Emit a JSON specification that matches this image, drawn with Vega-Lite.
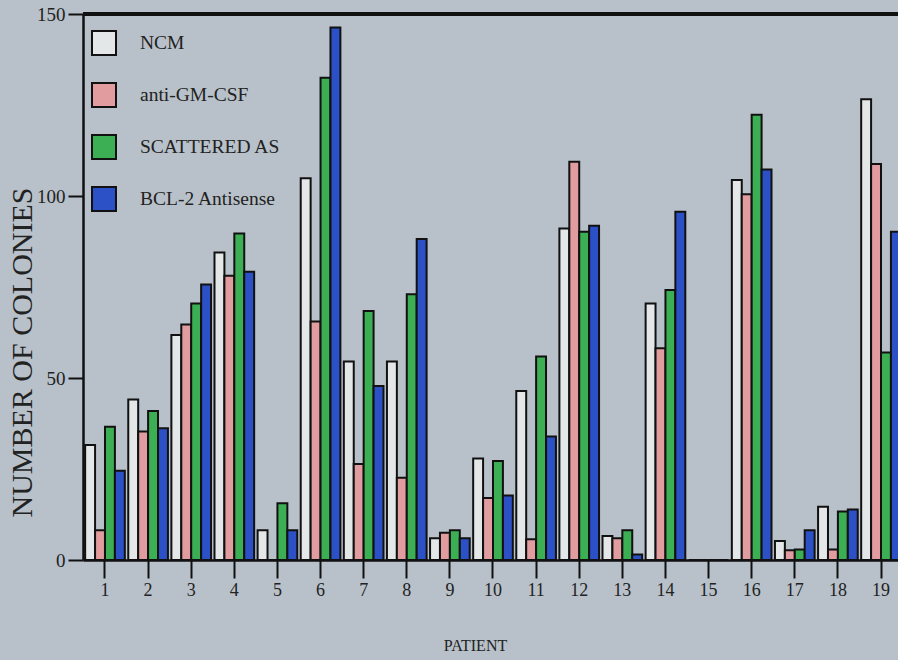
{
  "$schema": "https://vega.github.io/schema/vega-lite/v6.json",
  "width": 815,
  "height": 546,
  "autosize": {"type": "none"},
  "padding": {"left": 83, "top": 14, "right": 0, "bottom": 100},
  "background": "#b8c1c9",
  "config": {"view": {"stroke": null}, "font": "Liberation Serif"},
  "data": {"values": [
    {"patient": 1, "treatment": "NCM", "colonies": 31.6},
    {"patient": 1, "treatment": "anti-GM-CSF", "colonies": 8.2},
    {"patient": 1, "treatment": "SCATTERED AS", "colonies": 36.6},
    {"patient": 1, "treatment": "BCL-2 Antisense", "colonies": 24.5},
    {"patient": 2, "treatment": "NCM", "colonies": 44.1},
    {"patient": 2, "treatment": "anti-GM-CSF", "colonies": 35.3},
    {"patient": 2, "treatment": "SCATTERED AS", "colonies": 40.9},
    {"patient": 2, "treatment": "BCL-2 Antisense", "colonies": 36.2},
    {"patient": 3, "treatment": "NCM", "colonies": 61.8},
    {"patient": 3, "treatment": "anti-GM-CSF", "colonies": 64.7},
    {"patient": 3, "treatment": "SCATTERED AS", "colonies": 70.5},
    {"patient": 3, "treatment": "BCL-2 Antisense", "colonies": 75.7},
    {"patient": 4, "treatment": "NCM", "colonies": 84.5},
    {"patient": 4, "treatment": "anti-GM-CSF", "colonies": 78.1},
    {"patient": 4, "treatment": "SCATTERED AS", "colonies": 89.7},
    {"patient": 4, "treatment": "BCL-2 Antisense", "colonies": 79.2},
    {"patient": 5, "treatment": "NCM", "colonies": 8.2},
    {"patient": 5, "treatment": "anti-GM-CSF", "colonies": 0},
    {"patient": 5, "treatment": "SCATTERED AS", "colonies": 15.6},
    {"patient": 5, "treatment": "BCL-2 Antisense", "colonies": 8.2},
    {"patient": 6, "treatment": "NCM", "colonies": 104.9},
    {"patient": 6, "treatment": "anti-GM-CSF", "colonies": 65.5},
    {"patient": 6, "treatment": "SCATTERED AS", "colonies": 132.5},
    {"patient": 6, "treatment": "BCL-2 Antisense", "colonies": 146.3},
    {"patient": 7, "treatment": "NCM", "colonies": 54.5},
    {"patient": 7, "treatment": "anti-GM-CSF", "colonies": 26.4},
    {"patient": 7, "treatment": "SCATTERED AS", "colonies": 68.4},
    {"patient": 7, "treatment": "BCL-2 Antisense", "colonies": 47.8},
    {"patient": 8, "treatment": "NCM", "colonies": 54.5},
    {"patient": 8, "treatment": "anti-GM-CSF", "colonies": 22.6},
    {"patient": 8, "treatment": "SCATTERED AS", "colonies": 73.0},
    {"patient": 8, "treatment": "BCL-2 Antisense", "colonies": 88.2},
    {"patient": 9, "treatment": "NCM", "colonies": 6.0},
    {"patient": 9, "treatment": "anti-GM-CSF", "colonies": 7.5},
    {"patient": 9, "treatment": "SCATTERED AS", "colonies": 8.2},
    {"patient": 9, "treatment": "BCL-2 Antisense", "colonies": 6.0},
    {"patient": 10, "treatment": "NCM", "colonies": 27.9},
    {"patient": 10, "treatment": "anti-GM-CSF", "colonies": 17.0},
    {"patient": 10, "treatment": "SCATTERED AS", "colonies": 27.2},
    {"patient": 10, "treatment": "BCL-2 Antisense", "colonies": 17.7},
    {"patient": 11, "treatment": "NCM", "colonies": 46.4},
    {"patient": 11, "treatment": "anti-GM-CSF", "colonies": 5.7},
    {"patient": 11, "treatment": "SCATTERED AS", "colonies": 55.9},
    {"patient": 11, "treatment": "BCL-2 Antisense", "colonies": 33.9},
    {"patient": 12, "treatment": "NCM", "colonies": 91.1},
    {"patient": 12, "treatment": "anti-GM-CSF", "colonies": 109.4},
    {"patient": 12, "treatment": "SCATTERED AS", "colonies": 90.2},
    {"patient": 12, "treatment": "BCL-2 Antisense", "colonies": 91.8},
    {"patient": 13, "treatment": "NCM", "colonies": 6.6},
    {"patient": 13, "treatment": "anti-GM-CSF", "colonies": 6.0},
    {"patient": 13, "treatment": "SCATTERED AS", "colonies": 8.2},
    {"patient": 13, "treatment": "BCL-2 Antisense", "colonies": 1.5},
    {"patient": 14, "treatment": "NCM", "colonies": 70.5},
    {"patient": 14, "treatment": "anti-GM-CSF", "colonies": 58.2},
    {"patient": 14, "treatment": "SCATTERED AS", "colonies": 74.2},
    {"patient": 14, "treatment": "BCL-2 Antisense", "colonies": 95.7},
    {"patient": 15, "treatment": "NCM", "colonies": 0},
    {"patient": 15, "treatment": "anti-GM-CSF", "colonies": 0},
    {"patient": 15, "treatment": "SCATTERED AS", "colonies": 0},
    {"patient": 15, "treatment": "BCL-2 Antisense", "colonies": 0},
    {"patient": 16, "treatment": "NCM", "colonies": 104.4},
    {"patient": 16, "treatment": "anti-GM-CSF", "colonies": 100.5},
    {"patient": 16, "treatment": "SCATTERED AS", "colonies": 122.3},
    {"patient": 16, "treatment": "BCL-2 Antisense", "colonies": 107.3},
    {"patient": 17, "treatment": "NCM", "colonies": 5.2},
    {"patient": 17, "treatment": "anti-GM-CSF", "colonies": 2.7},
    {"patient": 17, "treatment": "SCATTERED AS", "colonies": 2.9},
    {"patient": 17, "treatment": "BCL-2 Antisense", "colonies": 8.2},
    {"patient": 18, "treatment": "NCM", "colonies": 14.6},
    {"patient": 18, "treatment": "anti-GM-CSF", "colonies": 2.9},
    {"patient": 18, "treatment": "SCATTERED AS", "colonies": 13.3},
    {"patient": 18, "treatment": "BCL-2 Antisense", "colonies": 13.9},
    {"patient": 19, "treatment": "NCM", "colonies": 126.6},
    {"patient": 19, "treatment": "anti-GM-CSF", "colonies": 108.8},
    {"patient": 19, "treatment": "SCATTERED AS", "colonies": 57.0},
    {"patient": 19, "treatment": "BCL-2 Antisense", "colonies": 90.2}
  ]},
  "layer": [
    {
      "mark": {"type": "bar", "stroke": "#111111", "strokeWidth": 2, "clip": true},
      "encoding": {
        "x": {
          "field": "patient", "type": "ordinal",
          "scale": {"range": [0, 820], "paddingInner": 0.08, "paddingOuter": 0.05},
          "axis": {
            "labelAngle": 0, "labelFontSize": 18, "labelColor": "#222222", "labelPadding": 3,
            "tickSize": 18, "tickWidth": 2, "tickColor": "#111111",
            "domainColor": "#111111", "domainWidth": 2.5,
            "title": "PATIENT", "titleFontSize": 16, "titleFontWeight": "normal", "titleColor": "#222222",
            "titleX": 392, "titleY": 85, "titleBaseline": "middle", "titleAnchor": "start", "titleAlign": "center"
          }
        },
        "xOffset": {"field": "treatment", "type": "nominal", "sort": ["NCM", "anti-GM-CSF", "SCATTERED AS", "BCL-2 Antisense"], "scale": {"paddingInner": 0, "paddingOuter": 0}},
        "y": {
          "field": "colonies", "type": "quantitative",
          "scale": {"domain": [0, 150], "nice": false},
          "axis": {
            "values": [0, 50, 100, 150], "grid": false,
            "labelFontSize": 19, "labelColor": "#222222", "labelPadding": 3,
            "tickSize": 15, "tickWidth": 2, "tickColor": "#111111",
            "domainColor": "#111111", "domainWidth": 2.5,
            "title": "NUMBER OF COLONIES", "titleFontSize": 30, "titleFontWeight": "normal", "titleColor": "#222222",
            "titleX": -61, "titleY": 338, "titleAngle": -90, "titleAlign": "center", "titleBaseline": "middle", "titleAnchor": "start"
          }
        },
        "color": {
          "field": "treatment", "type": "nominal",
          "sort": ["NCM", "anti-GM-CSF", "SCATTERED AS", "BCL-2 Antisense"],
          "scale": {"domain": ["NCM", "anti-GM-CSF", "SCATTERED AS", "BCL-2 Antisense"], "range": ["#e4e7e8", "#e09c9f", "#3caf55", "#2c51c6"]},
          "legend": {
            "orient": "none", "legendX": 8, "legendY": 16, "title": null,
            "symbolType": "square", "symbolSize": 576, "symbolStrokeColor": "#111111", "symbolStrokeWidth": 2, "symbolOpacity": 1,
            "labelFontSize": 19.5, "labelColor": "#222222", "labelOffset": 23, "rowPadding": 20
          }
        }
      }
    },
    {
      "mark": {"type": "rule", "stroke": "#111111", "strokeWidth": 2.5},
      "encoding": {"y": {"datum": 150}}
    }
  ]
}
